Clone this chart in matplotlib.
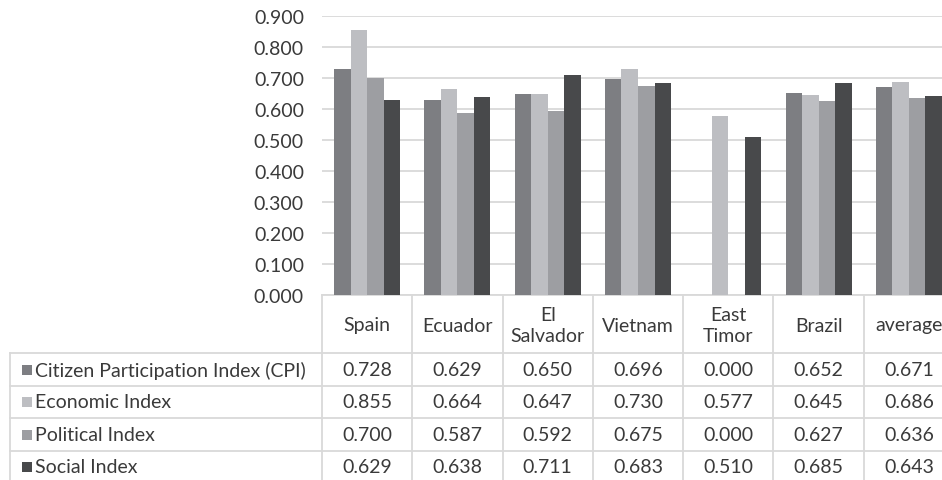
import matplotlib
matplotlib.use("Agg")
import matplotlib.pyplot as plt
import numpy as np
from matplotlib.transforms import blended_transform_factory
from matplotlib.patches import Rectangle

# Data
categories = ["Spain", "Ecuador", "El\nSalvador", "Vietnam", "East\nTimor", "Brazil", "average"]
series_names = ["Citizen Participation Index (CPI)", "Economic Index", "Political Index", "Social Index"]
cpi = [0.728, 0.629, 0.650, 0.696, 0.000, 0.652, 0.671]
economic = [0.855, 0.664, 0.647, 0.730, 0.577, 0.645, 0.686]
political = [0.700, 0.587, 0.592, 0.675, 0.000, 0.627, 0.636]
social = [0.629, 0.638, 0.711, 0.683, 0.510, 0.685, 0.643]
y_ticks = [0.0, 0.1, 0.2, 0.3, 0.4, 0.5, 0.6, 0.7, 0.8, 0.9]

series_values = [cpi, economic, political, social]
colors = ["#7d7e82", "#bdbec2", "#9d9ea2", "#48494b"]

W, H = 942, 481
plt.rcParams['font.family'] = ['Lato', 'DejaVu Sans']
text_color = "#3a3a3a"
grid_color = "#d9d9d9"
fs = 14

fig = plt.figure(figsize=(W / 100, H / 100), dpi=100)
fig.patch.set_facecolor("white")

# plot area in pixels
ax_left, ax_right, ax_top, ax_bottom = 322, 954, 17, 296
ax = fig.add_axes([ax_left / W, 1 - ax_bottom / H, (ax_right - ax_left) / W, (ax_bottom - ax_top) / H])
n = len(categories)
x = np.arange(n)
bar_w = 0.183
for i, (vals, col) in enumerate(zip(series_values, colors)):
    ax.bar(x + (i - 1.5) * bar_w, vals, width=bar_w, color=col, zorder=3, linewidth=0)

ax.set_xlim(-0.5, n - 0.5)
ax.set_ylim(0, 0.9)
ax.set_yticks(y_ticks)
ax.set_yticklabels([f"{v:.3f}" for v in y_ticks], fontsize=fs, color=text_color)
ax.tick_params(axis="y", length=0, pad=13)
ax.set_xticks([])
ax.grid(axis="y", color=grid_color, linewidth=1.3, zorder=0)
for s in ["top", "right", "left"]:
    ax.spines[s].set_visible(False)
ax.spines["bottom"].set_color(grid_color)
ax.spines["bottom"].set_linewidth(1.3)

# data table beneath the plot
def py(p):
    return 1 - p / H

tr = blended_transform_factory(ax.transData, fig.transFigure)
trf = fig.transFigure
row_lines = [354, 387, 419, 452, 484]
header_top = 296
table_left = 10
line_kw = dict(color=grid_color, linewidth=1.3, clip_on=False)

# vertical column separators
for k in range(n + 1):
    xb = k - 0.5
    fig.add_artist(plt.Line2D([xb, xb], [py(header_top), py(row_lines[-1])], transform=tr, **line_kw))
# left label column border
fig.add_artist(plt.Line2D([table_left / W, table_left / W], [py(row_lines[0]), py(row_lines[-1])], transform=trf, **line_kw))
# horizontal row lines
for r in row_lines:
    fig.add_artist(plt.Line2D([table_left / W, ax_right / W], [py(r), py(r)], transform=trf, **line_kw))

# header labels
for k, c in enumerate(categories):
    fig.text(k, py((header_top + row_lines[0]) / 2 + 1), c, transform=tr, ha="center", va="center",
             fontsize=fs, color=text_color, linespacing=1.3)

# rows: legend key, series name, values
for r, (name, vals, col) in enumerate(zip(series_names, series_values, colors)):
    yc = (row_lines[r] + row_lines[r + 1]) / 2
    fig.add_artist(Rectangle(((table_left + 12) / W, py(yc + 5)), 10 / W, 10 / H,
                             transform=trf, facecolor=col, edgecolor="none"))
    fig.text((table_left + 25) / W, py(yc), name, transform=trf, ha="left", va="center",
             fontsize=fs, color=text_color)
    for k, v in enumerate(vals):
        fig.text(k, py(yc), f"{v:.3f}", transform=tr, ha="center", va="center",
                 fontsize=fs, color=text_color)

fig.savefig("out.png", dpi=100)
